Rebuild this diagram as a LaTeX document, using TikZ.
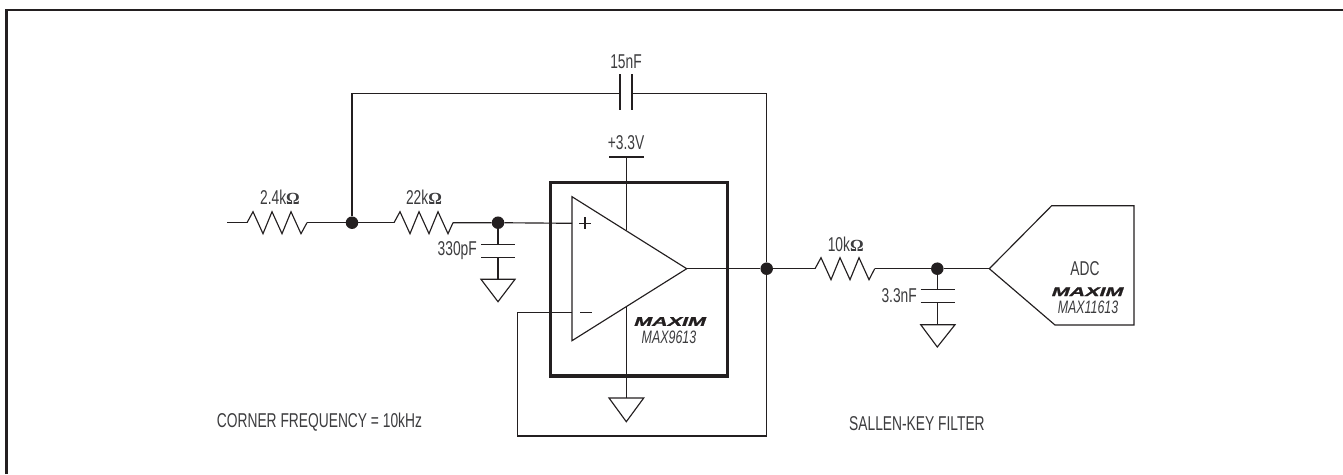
\documentclass[tikz,border=0pt]{standalone}
\usepackage{fontspec}
\setmainfont{Liberation Sans}[FakeStretch=0.69]
\newfontfamily\logofont{Liberation Sans}[FakeStretch=1.72,FakeBold=1.5]
\newfontfamily\greekfont{Liberation Serif}
\definecolor{ink}{HTML}{231F20}
\definecolor{txt}{HTML}{3C3C3E}
\tikzset{
  wire/.style={draw=ink,line width=1.15,line join=miter},
  heavy/.style={draw=ink,line width=3.2},
  frameline/.style={draw=ink,line width=2.4},
  dotj/.style={circle,fill=ink,draw=none,inner sep=0,minimum size=12.5},
  lab/.style={inner sep=0,text=txt,font=\fontsize{20}{22}\selectfont},
  itlab/.style={inner sep=0,text=txt,font=\itshape\fontsize{18}{20}\selectfont},
  logo/.style={inner sep=0,text=ink,font=\logofont\bfseries\fontsize{12.5}{13}\selectfont,xslant=0.35},
}
\newcommand{\ohm}{\textbf{\greekfont\fontsize{17}{18}\selectfont Ω}}
\newcommand{\zigzag}[2]{% left node, right node
  \draw[wire] (#1) -- ++(6,-11) -- ++(10,22) -- ++(9,-22) -- ++(10,22) -- ++(9,-22) -- ++(10,22) -- (#2);}
\begin{document}
\begin{tikzpicture}[x=1pt,y=-1pt]
\useasboundingbox (0,0) rectangle (1343,474);
\coordinate (fbl) at (6.5,474); \coordinate (fcr) at (6.5,10); \coordinate (ftr) at (1343,10);
\draw[frameline] (fbl) -- (fcr) -- (ftr);

% junctions and points
\coordinate (in) at (227,222.7);
\coordinate (r1a) at (247,222.7); \coordinate (r1b) at (307,222.7);
\node[dotj] (j1) at (352,222.7) {};
\coordinate (r2a) at (394,222.7); \coordinate (r2b) at (453,222.7);
\node[dotj] (j2) at (498,222.7) {};
\coordinate (tl) at (352,93.3); \coordinate (tr) at (766.7,93.3);
\coordinate (c1a) at (620,93.3); \coordinate (c1b) at (632,93.3);
\node[dotj] (j3) at (766.7,268.7) {};
\coordinate (r3a) at (815,268.7); \coordinate (r3b) at (874.7,268.7);
\node[dotj] (j4) at (937.3,268.7) {};

% op amp package
\draw[heavy] (550.7,182.7) rectangle (727.3,376);
\coordinate (ip) at (572,223.3); \coordinate (im) at (572,312.7);
\coordinate (oa) at (686.7,268.7);
\coordinate (sa) at (626.3,157); \coordinate (sb) at (626.3,230);
\coordinate (ga) at (626.3,307); \coordinate (gb) at (626.3,398);
\coordinate (fa) at (517.7,312.7); \coordinate (fb) at (517.7,436); \coordinate (fc) at (766.7,436);

% wires
\draw[wire] (in) -- (r1a); \zigzag{r1a}{r1b}
\draw[wire] (r1b) -- (j1) -- (r2a); \zigzag{r2a}{r2b}
\draw[wire] (r2b) -- (j2) -- (ip);
\draw[wire] (j1) -- (tl) -- (c1a);
\draw[wire] (c1b) -- (tr) -- (j3);
\draw[wire] (oa) -- (j3) -- (r3a); \zigzag{r3a}{r3b}
\draw[wire] (r3b) -- (j4) -- (989.3,268.7);
\draw[wire] (j3) -- (fc) -- (fb) -- (fa) -- (im);
\draw[wire] (sa) -- (sb);
\draw[wire] (ga) -- (gb);
\draw[wire] (609,157) -- (643.7,157);

% feedback capacitor
\draw[wire] (620,74) -- (620,110);
\draw[wire] (632,74) -- (632,110);

% op amp triangle
\draw[wire] (572,196.7) -- (572,340.7) -- (686.7,268.7) -- cycle;
\draw[wire] (579,223.3) -- (591,223.3) (585,217.3) -- (585,229.3);
\draw[wire] (580,312.7) -- (592,312.7);

% shunt capacitor 330pF and ground
\draw[wire] (j2) -- (498,244.7);
\draw[wire] (481,244.7) -- (515,244.7) (481,257.3) -- (515,257.3);
\draw[wire] (498,257.3) -- (498,279.3);
\draw[wire] (481,279.3) -- (515,279.3) -- (498,301.7) -- cycle;

% shunt capacitor 3.3nF and ground
\draw[wire] (j4) -- (937.3,289.3);
\draw[wire] (920.7,289.3) -- (955,289.3) (920.7,302.7) -- (955,302.7);
\draw[wire] (937.3,302.7) -- (937.3,324.7);
\draw[wire] (920.7,324.7) -- (955,324.7) -- (937.3,347) -- cycle;

% op amp ground
\draw[wire] (609,398) -- (643.7,398) -- (626.3,421.7) -- cycle;

% ADC
\draw[wire] (989.3,268.7) -- (1051.7,205.7) -- (1134,205.7) -- (1134,325) -- (1055,325) -- cycle;

% labels
\node[lab] (l15) at (626,62) {15nF};
\node[lab] (l33v) at (626,143) {+3.3V};
\node[lab] (lr1) at (280,197) {2.4k\ohm};
\node[lab] (lr2) at (424,197) {22k\ohm};
\node[lab,anchor=east] (lc1) at (477,251) {330pF};
\node[lab] (lr3) at (845.7,244) {10k\ohm};
\node[lab,anchor=east] (lc2) at (917,295.7) {3.3nF};
\node[lab] (ladc) at (1085,269) {ADC};
\node[logo] (logo1) at (670.5,321.5) {MAXIM};
\node[itlab] (m1) at (669,337) {MAX9613};
\node[logo] (logo2) at (1088,291.7) {MAXIM};
\node[itlab] (m2) at (1088,307) {MAX11613};
\node[lab,anchor=west] (cf) at (216.7,422) {CORNER FREQUENCY = 10kHz};
\node[lab,anchor=west] (sk) at (849,424) {SALLEN-KEY FILTER};
\end{tikzpicture}
\end{document}
